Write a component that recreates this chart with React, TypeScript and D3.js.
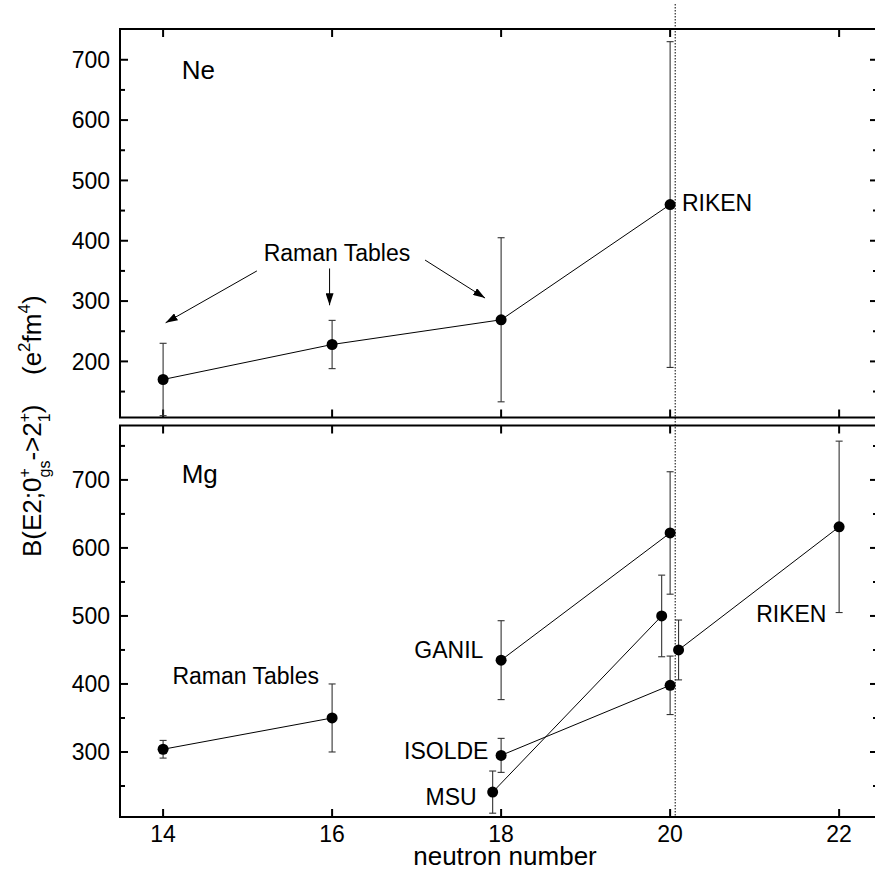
import React from "react";
import * as d3 from "d3";

// ---------- data ----------
const xTickValues = [14, 16, 18, 20, 22];
const topYTicks = [200, 300, 400, 500, 600, 700];
const topYMinor = [150, 250, 350, 450, 550, 650];
const botYTicks = [300, 400, 500, 600, 700];
const botYMinor = [250, 350, 450, 550, 650, 750];

// Ne (top panel)
const neN = [14, 16, 18, 20];
const neB = [170, 228, 269, 460];
const neErr = [60, 40, 136, 270];

// Mg (bottom panel), one series per experiment
const ramanMgN = [14, 16];
const ramanMgB = [304, 350];
const ramanMgErr = [13, 50];
const ganilN = [18, 20];
const ganilB = [435, 622];
const ganilErr = [58, 90];
const isoldeN = [18, 20];
const isoldeB = [295, 398];
const isoldeErr = [25, 43];
const msuN = [17.9, 19.9];
const msuB = [241, 500];
const msuErr = [31, 60];
const rikenMgN = [20.1, 22];
const rikenMgB = [450, 631];
const rikenMgErr = [44, 126];

// annotation arrows in top panel (data coordinates)
const arrowFromN = [15.11, 15.97, 17.1];
const arrowFromB = [350, 354, 368];
const arrowToN = [14.03, 15.97, 17.81];
const arrowToB = [264, 293, 305];

const shellClosureN = 20.06;

// ---------- layout ----------
const W = 875;
const H = 873;
const left = 120;
const right = 878;
const topP = { y0: 29, y1: 417.5 };
const botP = { y0: 425.5, y1: 817 };
const FONT = "'Liberation Sans', Arial, Helvetica, sans-serif";

const x = d3.scaleLinear().domain([13.49, 22.46]).range([left, right]);
const yTop = d3.scaleLinear().domain([107, 751]).range([topP.y1, topP.y0]);
const yBot = d3.scaleLinear().domain([204.4, 780]).range([botP.y1, botP.y0]);

type Scale = d3.ScaleLinear<number, number>;

function Series({ n, b, e, y }: { n: number[]; b: number[]; e: number[]; y: Scale }) {
  const line = d3
    .line<number>()
    .x((_, i) => x(n[i]))
    .y((v) => y(v));
  return (
    <g>
      <path d={line(b) || ""} fill="none" stroke="#000" strokeWidth={1} />
      {b.map((v, i) => {
        const cx = x(n[i]);
        const yt = y(v + e[i]);
        const yb = y(v - e[i]);
        return (
          <g key={i}>
            <line x1={cx} x2={cx} y1={yt} y2={yb} stroke="#333" strokeWidth={1.1} />
            <line x1={cx - 3.5} x2={cx + 3.5} y1={yt} y2={yt} stroke="#333" strokeWidth={1.1} />
            <line x1={cx - 3.5} x2={cx + 3.5} y1={yb} y2={yb} stroke="#333" strokeWidth={1.1} />
            <circle cx={cx} cy={y(v)} r={5.5} fill="#000" />
          </g>
        );
      })}
    </g>
  );
}

function Frame({ y, y0, y1, major, minor, labels }: { y: Scale; y0: number; y1: number; major: number[]; minor: number[]; labels: boolean }) {
  const M = 8;
  const m = 5;
  return (
    <g stroke="#000" strokeWidth={2}>
      <rect x={left} y={y0} width={right - left} height={y1 - y0} fill="none" />
      {major.map((v) => (
        <g key={"M" + v}>
          <line x1={left} x2={left + M} y1={y(v)} y2={y(v)} />
          <line x1={right} x2={right - M} y1={y(v)} y2={y(v)} />
        </g>
      ))}
      {minor.map((v) => (
        <g key={"m" + v}>
          <line x1={left} x2={left + m} y1={y(v)} y2={y(v)} />
          <line x1={right} x2={right - m} y1={y(v)} y2={y(v)} />
        </g>
      ))}
      {xTickValues.map((v) => (
        <g key={"x" + v}>
          <line x1={x(v)} x2={x(v)} y1={y0} y2={y0 + M} />
          <line x1={x(v)} x2={x(v)} y1={y1} y2={y1 - M} />
        </g>
      ))}
      {major.map((v) => (
        <text
          key={"t" + v}
          x={left - 10}
          y={y(v)}
          dy="0.36em"
          textAnchor="end"
          fontSize={23}
          fontFamily={FONT}
          stroke="none"
          fill="#000"
        >
          {v}
        </text>
      ))}
      {labels &&
        xTickValues.map((v) => (
          <text key={"xl" + v} x={x(v)} y={842} textAnchor="middle" fontSize={23} fontFamily={FONT} stroke="none" fill="#000">
            {v}
          </text>
        ))}
    </g>
  );
}

export default function App() {
  const lab = { fontFamily: FONT, fontSize: 23, fill: "#000" } as const;
  return (
    <svg width={W} height={H} style={{ position: "absolute", left: 0, top: 0, background: "#fff" }}>
      <defs>
        <marker id="ah" viewBox="0 0 12 8" refX={12} refY={4} markerWidth={12} markerHeight={8} markerUnits="userSpaceOnUse" orient="auto">
          <path d="M0,0 L12,4 L0,8 Z" fill="#000" />
        </marker>
      </defs>
      <rect x={0} y={0} width={W} height={H} fill="#fff" />

      {/* dotted N=20 line */}
      <line x1={x(shellClosureN)} x2={x(shellClosureN)} y1={4} y2={botP.y1} stroke="#000" strokeWidth={1} strokeDasharray="1.5,1.5" />

      <Frame y={yTop} y0={topP.y0} y1={topP.y1} major={topYTicks} minor={topYMinor} labels={false} />
      <Frame y={yBot} y0={botP.y0} y1={botP.y1} major={botYTicks} minor={botYMinor} labels={true} />

      {/* top panel */}
      <Series n={neN} b={neB} e={neErr} y={yTop} />
      {arrowFromN.map((v, i) => (
        <line
          key={"a" + i}
          x1={x(v)}
          y1={yTop(arrowFromB[i])}
          x2={x(arrowToN[i])}
          y2={yTop(arrowToB[i])}
          stroke="#000"
          strokeWidth={1}
          markerEnd="url(#ah)"
        />
      ))}
      <text x={x(14.22)} y={yTop(668)} fontFamily={FONT} fontSize={26}>Ne</text>
      <text x={x(15.19)} y={yTop(366.4)} {...lab}>Raman Tables</text>
      <text x={x(20.14)} y={yTop(449)} {...lab}>RIKEN</text>

      {/* bottom panel */}
      <Series n={ramanMgN} b={ramanMgB} e={ramanMgErr} y={yBot} />
      <Series n={ganilN} b={ganilB} e={ganilErr} y={yBot} />
      <Series n={isoldeN} b={isoldeB} e={isoldeErr} y={yBot} />
      <Series n={msuN} b={msuB} e={msuErr} y={yBot} />
      <Series n={rikenMgN} b={rikenMgB} e={rikenMgErr} y={yBot} />
      <text x={x(14.22)} y={yBot(696)} fontFamily={FONT} fontSize={26}>Mg</text>
      <text x={x(14.11)} y={yBot(400)} {...lab}>Raman Tables</text>
      <text x={x(17.79)} y={yBot(438)} textAnchor="end" {...lab}>GANIL</text>
      <text x={x(17.85)} y={yBot(290)} textAnchor="end" {...lab}>ISOLDE</text>
      <text x={x(17.71)} y={yBot(222.5)} textAnchor="end" {...lab}>MSU</text>
      <text x={x(21.85)} y={yBot(491)} textAnchor="end" {...lab}>RIKEN</text>

      {/* axis titles */}
      <text x={505} y={865} textAnchor="middle" fontFamily={FONT} fontSize={26}>neutron number</text>
      <text transform="translate(41,557) rotate(-90)" fontFamily={FONT} fontSize={26}>
        B(E2;0
        <tspan dy={-11} fontSize={16}>+</tspan>
        <tspan dx={-9.3} dy={20} fontSize={16}>gs</tspan>
        <tspan dy={-9}>-&gt;2</tspan>
        <tspan dy={-11} fontSize={16}>+</tspan>
        <tspan dx={-9.3} dy={20} fontSize={16}>1</tspan>
        <tspan dy={-9}>)</tspan>
      </text>
      <text transform="translate(41,375) rotate(-90)" fontFamily={FONT} fontSize={26}>
        (e
        <tspan dy={-11} fontSize={17}>2</tspan>
        <tspan dy={11}>fm</tspan>
        <tspan dy={-11} fontSize={17}>4</tspan>
        <tspan dy={11}>)</tspan>
      </text>
    </svg>
  );
}
